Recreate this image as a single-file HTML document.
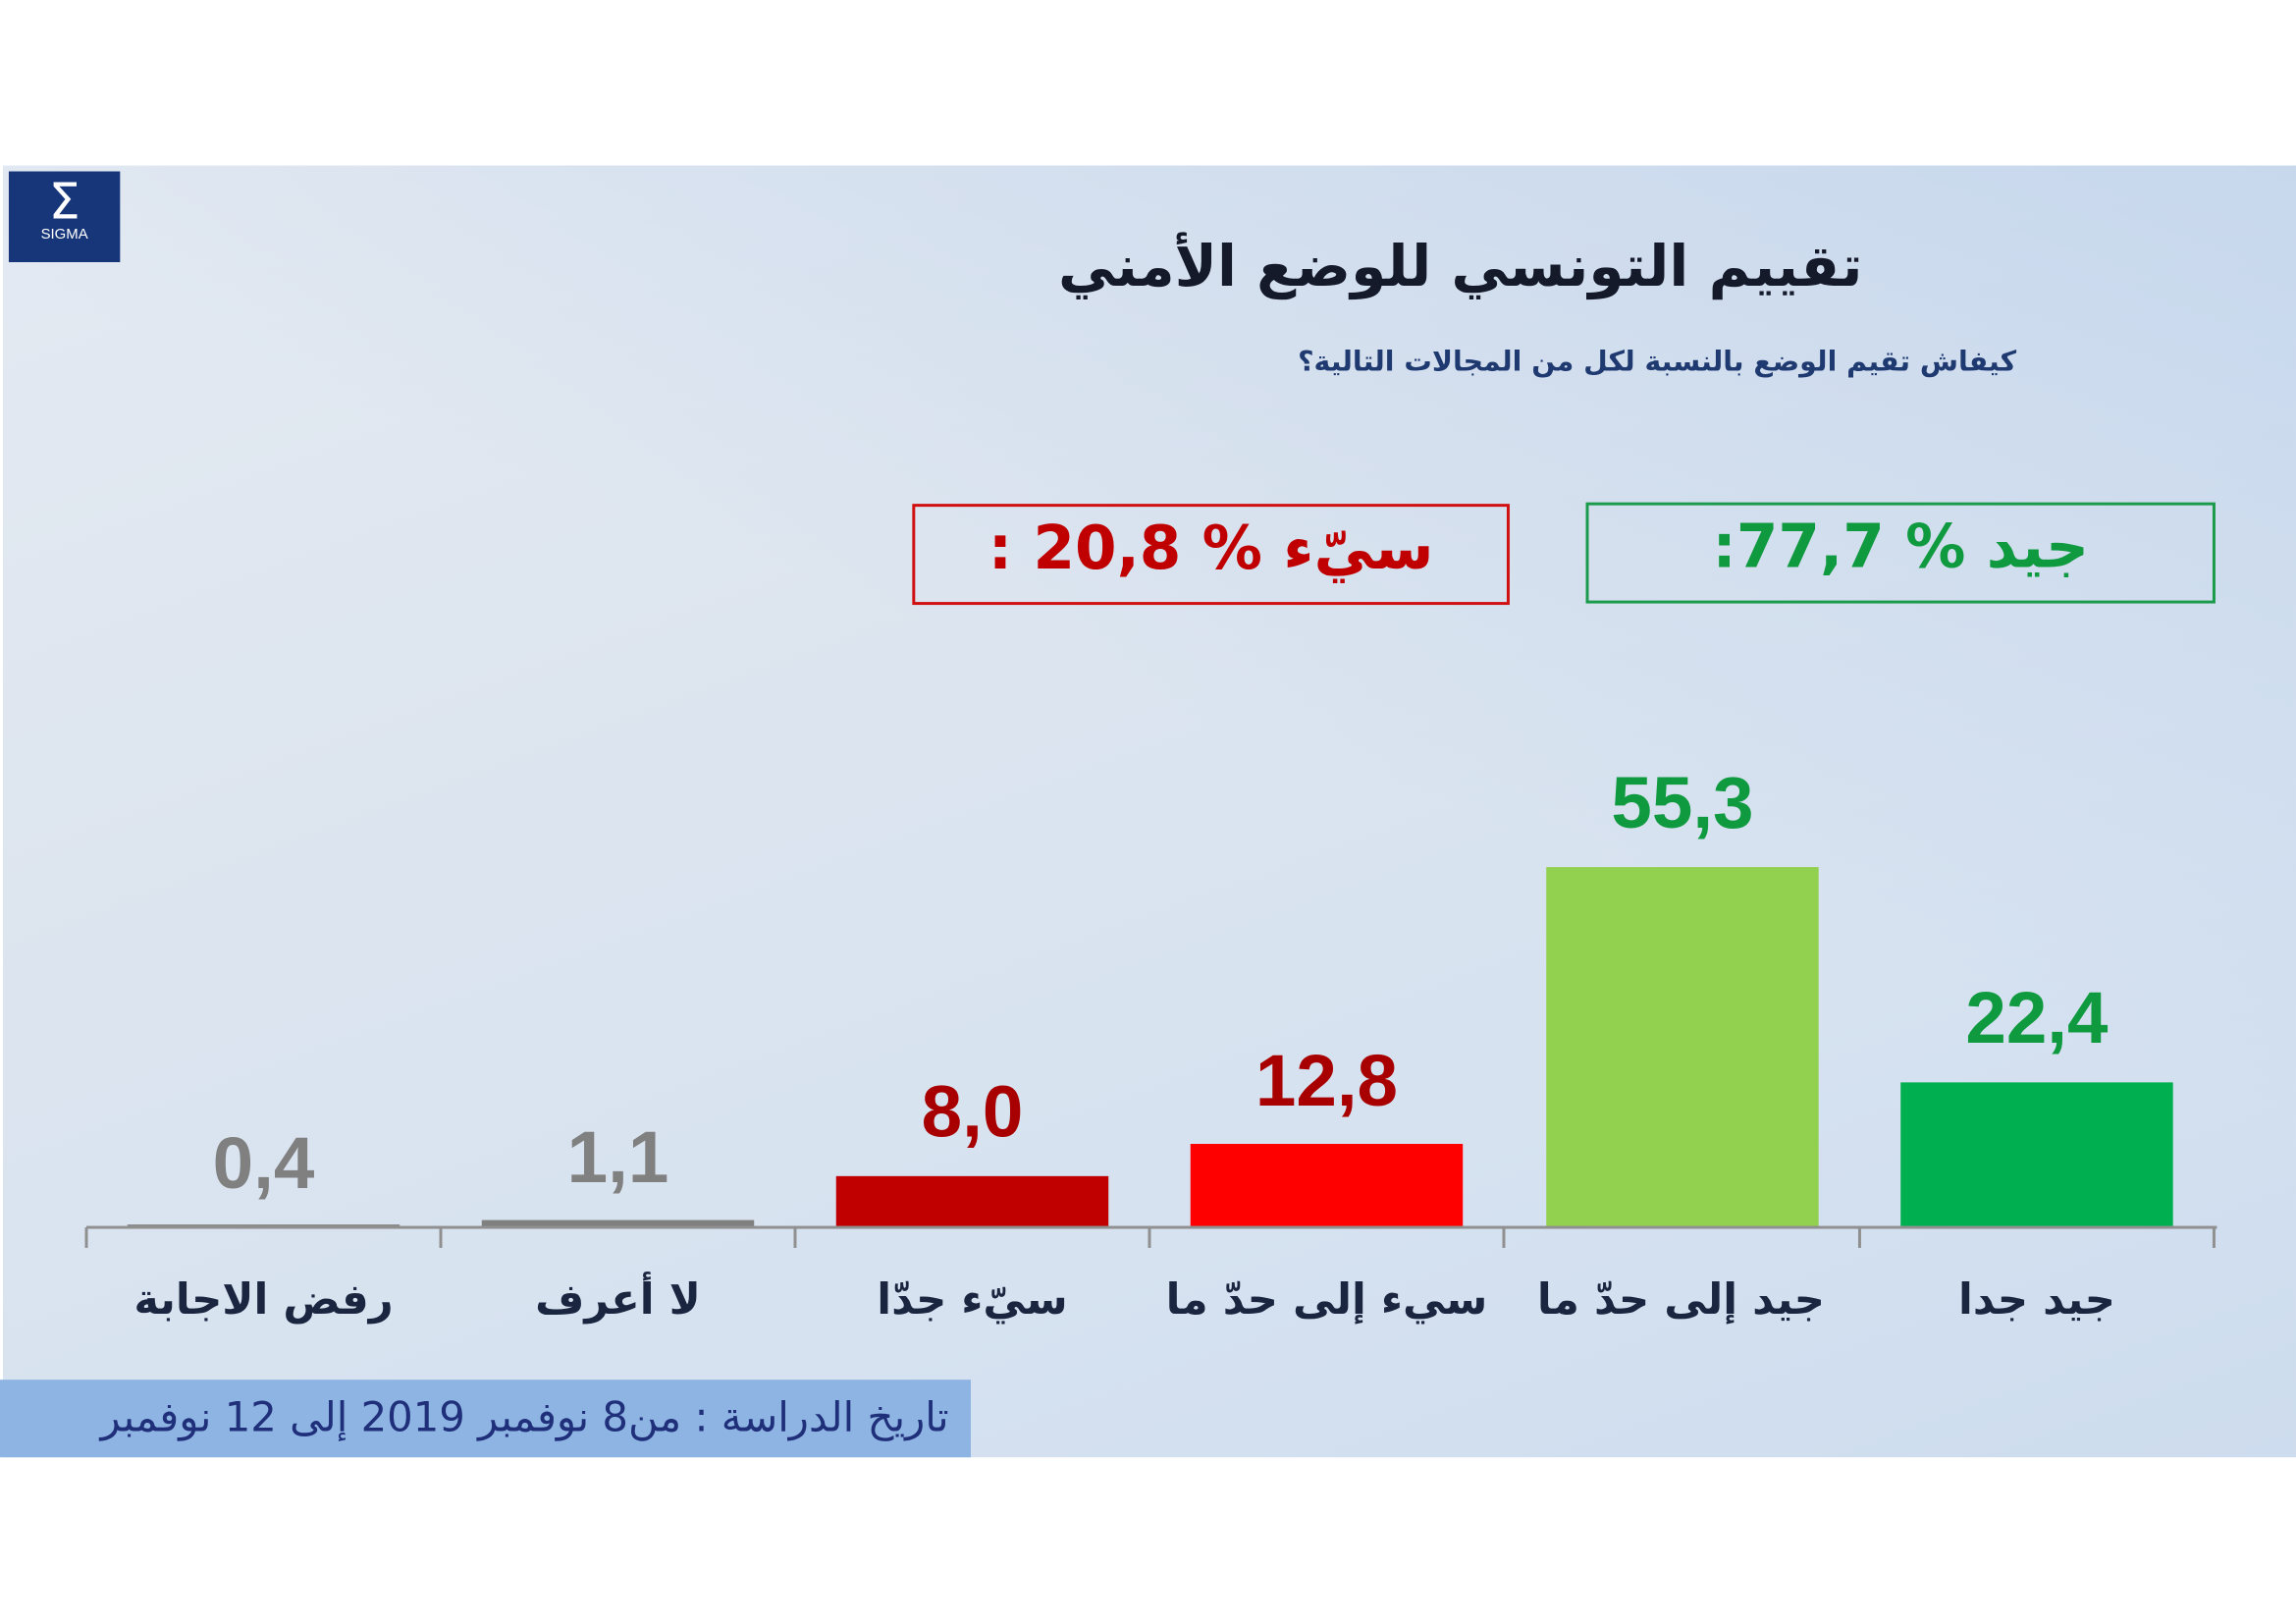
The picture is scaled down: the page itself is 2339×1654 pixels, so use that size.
<!DOCTYPE html>
<html><head><meta charset="utf-8">
<style>
html,body{margin:0;padding:0;width:2339px;height:1654px;overflow:hidden;background:#fff;}
#w{position:absolute;left:0;top:0;width:1568px;height:1109px;transform:scale(1.4917);transform-origin:0 0;font-family:"DejaVu Sans","Liberation Sans",sans-serif;}
.p{position:absolute;left:2px;top:113px;width:1566px;height:882px;background:linear-gradient(160deg,#e4eaf2 0%,#dde5ef 35%,#d6e2f0 70%,#cddcee 100%);}
.p2{position:absolute;left:2px;top:113px;width:1566px;height:882px;background:linear-gradient(200deg,rgba(190,210,236,0.7) 0%,rgba(220,228,238,0) 45%);}
.a{position:absolute;}
.t{position:absolute;white-space:nowrap;font-weight:bold;direction:rtl;}
.num{position:absolute;width:186px;text-align:center;font-family:"Liberation Sans Narrow","Liberation Sans",sans-serif;font-weight:bold;font-size:50px;line-height:50px;}
.cat{position:absolute;width:242px;text-align:center;font-weight:bold;font-size:29px;color:#1a2540;direction:rtl;top:870px;}
.bar{position:absolute;width:186px;}
.tick{position:absolute;top:838px;width:2px;height:14px;background:#909090;}
</style></head><body>
<div id="w">
<div class="p"></div><div class="p2"></div>
<div class="a" style="left:6px;top:117px;width:76px;height:62px;background:#17367a;color:#fff;text-align:center;">
<div style="font-size:34px;line-height:34px;margin-top:4px;">Σ</div>
<div style="font-size:10px;line-height:12px;font-family:'Liberation Sans',sans-serif;">SIGMA</div></div>
<div class="t" style="right:296px;top:160px;font-size:39px;color:#151a2a;">تقييم التونسي للوضع الأمني</div>
<div class="t" style="right:191px;top:236px;font-size:19px;color:#1f3a70;">كيفاش تقيم الوضع بالنسبة لكل من المجالات التالية؟</div>
<div class="a" style="left:623px;top:344px;width:404px;height:65px;border:2px solid #d01010;"></div>
<div class="t" style="left:623px;width:408px;top:350px;text-align:center;font-size:41px;color:#c00000;">سيّء % 20,8 :</div>
<div class="a" style="left:1083px;top:343px;width:426px;height:65px;border:2px solid #1a9a4a;"></div>
<div class="t" style="left:1083px;width:430px;top:349px;text-align:center;font-size:41px;color:#109a40;">جيد % 77,7:</div>

<div class="bar" style="left:87px;top:836px;height:2px;background:#8a8a8a;"></div>
<div class="bar" style="left:329px;top:833px;height:5px;background:#808080;"></div>
<div class="bar" style="left:571px;top:803px;height:35px;background:#c00000;"></div>
<div class="bar" style="left:813px;top:781px;height:57px;background:#ff0000;"></div>
<div class="bar" style="left:1056px;top:592px;height:246px;background:#92d050;"></div>
<div class="bar" style="left:1298px;top:739px;height:99px;background:#00b050;"></div>
<div class="a" style="left:59px;top:837px;width:1455px;height:2px;background:#909090;"></div>
<div class="tick" style="left:58px"></div><div class="tick" style="left:300px"></div><div class="tick" style="left:542px"></div><div class="tick" style="left:784px"></div><div class="tick" style="left:1026px"></div><div class="tick" style="left:1269px"></div><div class="tick" style="left:1511px"></div>

<div class="num" style="left:87px;top:769px;color:#808080;">0,4</div>
<div class="num" style="left:329px;top:765px;color:#808080;">1,1</div>
<div class="num" style="left:571px;top:734px;color:#a80000;">8,0</div>
<div class="num" style="left:813px;top:713px;color:#a80000;">12,8</div>
<div class="num" style="left:1056px;top:523px;color:#109a40;">55,3</div>
<div class="num" style="left:1298px;top:670px;color:#109a40;">22,4</div>

<div class="cat" style="left:59px;">رفض الاجابة</div>
<div class="cat" style="left:301px;">لا أعرف</div>
<div class="cat" style="left:543px;">سيّء جدّا</div>
<div class="cat" style="left:785px;">سيء إلى حدّ ما</div>
<div class="cat" style="left:1027px;">جيد إلى حدّ ما</div>
<div class="cat" style="left:1270px;">جيد جدا</div>

<div class="a" style="left:0;top:942px;width:663px;height:53px;background:#8eb4e3;"></div>
<div class="t" style="right:920px;top:951px;font-size:28px;font-weight:normal;color:#1f2f7a;letter-spacing:0.5px;">تاريخ الدراسة : من8  نوفمبر 2019 إلى 12 نوفمبر</div>
</div>
</body></html>
